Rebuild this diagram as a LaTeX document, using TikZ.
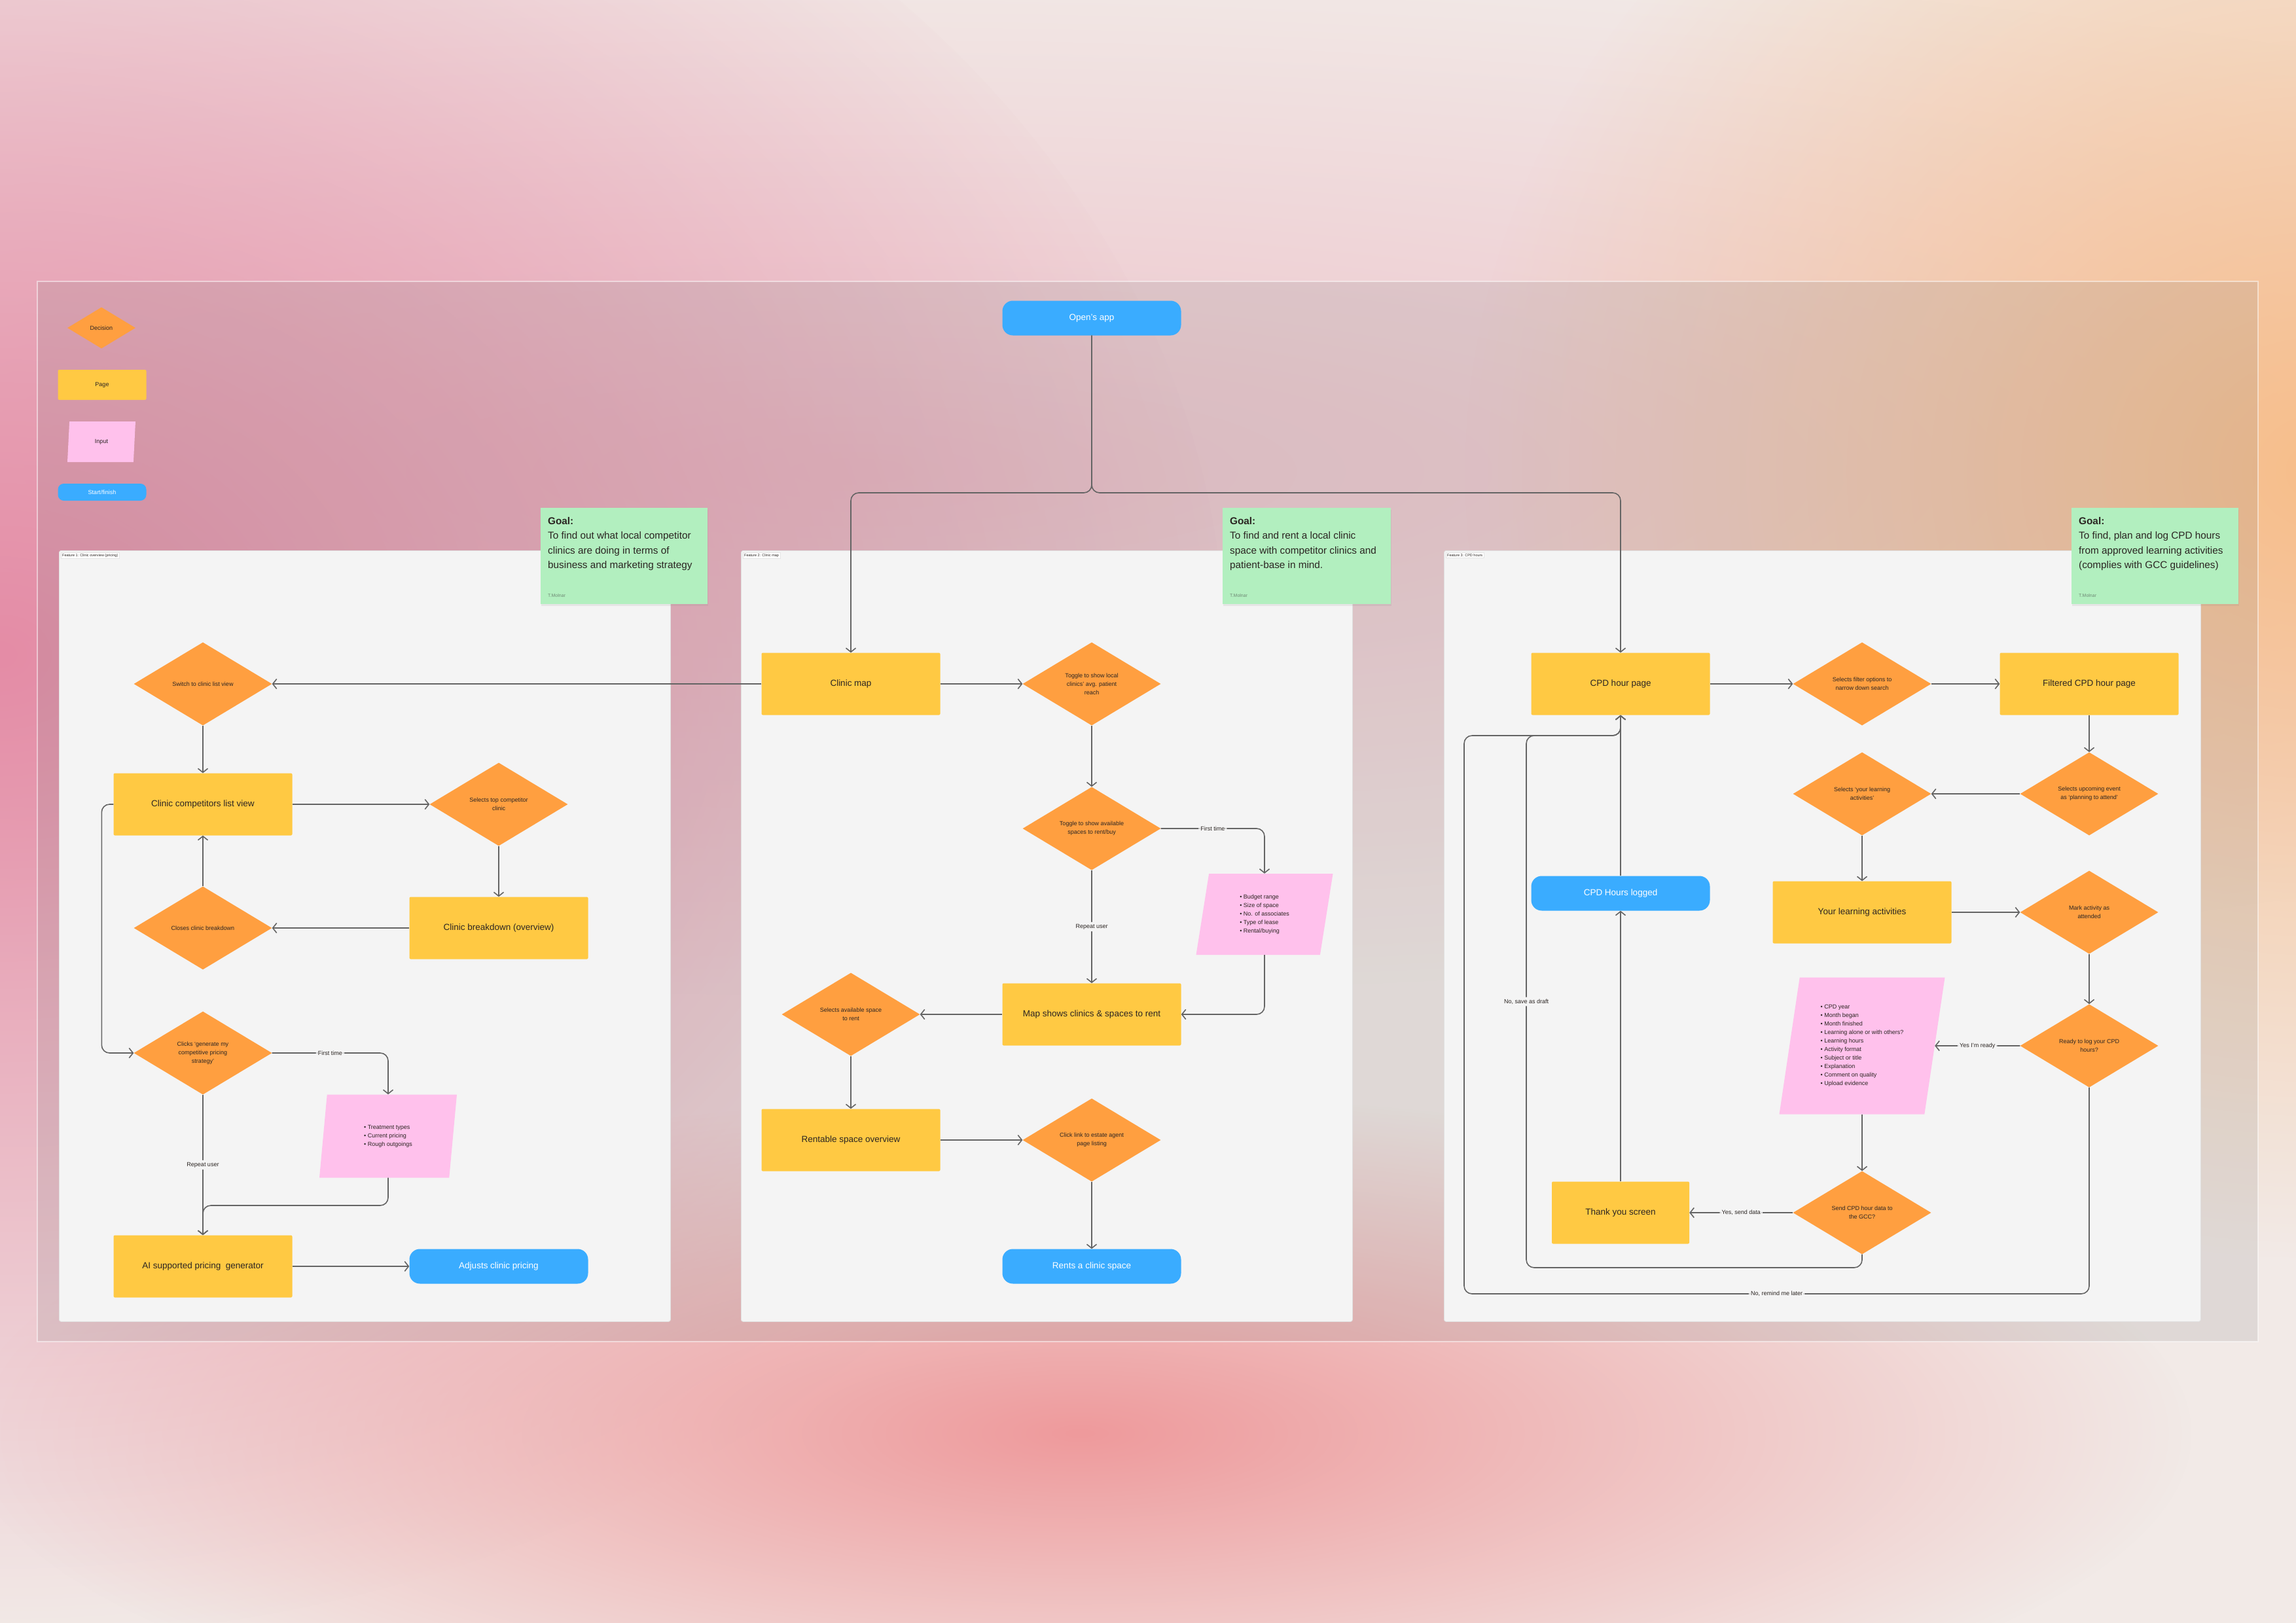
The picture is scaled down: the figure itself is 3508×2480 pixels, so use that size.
\documentclass[tikz,border=0pt]{standalone}
\usepackage{fontspec}
\setmainfont{Liberation Sans}
\usetikzlibrary{shapes.geometric,arrows.meta,fadings,shadows}

\definecolor{decisionfill}{HTML}{FF9F40}
\definecolor{pagefill}{HTML}{FFC943}
\definecolor{inputfill}{HTML}{FFC1EC}
\definecolor{startfill}{HTML}{3AACFF}
\definecolor{goalfill}{HTML}{B2EFBF}
\definecolor{panelfill}{HTML}{F4F4F4}
\definecolor{wire}{HTML}{646464}
\definecolor{ink}{HTML}{2B2522}
\definecolor{molnar}{HTML}{6F8A75}
\definecolor{bgbase}{HTML}{F2EAE7}
\definecolor{bglight}{HTML}{EDC3CB}
\definecolor{bgpink}{HTML}{E48CA6}
\definecolor{bgsalmon}{HTML}{EE9A9C}
\definecolor{bgpeach}{HTML}{F7BE8A}

\tikzfading[name=blobfade, inner color=transparent!0, outer color=transparent!100]

\begin{document}
\begin{tikzpicture}[x=1pt, y=-1pt,
	decision/.style={diamond, aspect=1.66, fill=decisionfill, inner sep=0pt, minimum width=211pt, minimum height=127pt, align=center, text=ink, font=\fontsize{9}{13}\selectfont},
	pagebox/.style={rectangle, fill=pagefill, rounded corners=2pt, minimum width=273pt, minimum height=95pt, text=ink, font=\fontsize{13.5}{15}\selectfont},
	startend/.style={rectangle, fill=startfill, rounded corners=16pt, minimum width=273pt, minimum height=53pt, text=white, font=\fontsize{13.5}{15}\selectfont},
	inputbox/.style={trapezium, trapezium stretches body, trapezium left angle=71, trapezium right angle=109, fill=inputfill, inner sep=0pt, align=left, text=ink, font=\fontsize{9}{13}\selectfont},
	goal/.style={anchor=north west, fill=goalfill, inner sep=11pt, text=ink, font=\fontsize{15.3}{22.5}\selectfont, drop shadow={opacity=0.12, shadow xshift=1pt, shadow yshift=-3pt}},
	panel/.style={anchor=north west, fill=panelfill, draw=black!12, line width=0.8pt, rounded corners=3pt, inner sep=0pt},
	paneltag/.style={anchor=north west, fill=white, draw=black!10, line width=0.4pt, inner sep=2pt, text=ink, font=\fontsize{5.5}{6}\selectfont},
	flow/.style={draw=wire, line width=1.6pt, rounded corners=12pt, -{Straight Barb[length=6pt, width=15pt]}},
	cond/.style={fill=panelfill, inner sep=3pt, text=ink, font=\fontsize{9}{10}\selectfont}
]
\useasboundingbox (0,0) rectangle (3508,2480);

\fill[bgbase] (0,0) rectangle (3508,2480);
\fill[bglight, path fading=blobfade] (1300,720) ellipse (3800pt and 800pt);
\fill[bgpink, path fading=blobfade] (0,1000) ellipse (1900pt and 1500pt);
\fill[bgsalmon, path fading=blobfade] (1650,2190) ellipse (1700pt and 520pt);
\fill[bgpeach, path fading=blobfade] (3540,720) ellipse (1300pt and 1200pt);
\fill[gray, fill opacity=0.16] (57,430) rectangle (3450,2050);
\draw[white, draw opacity=0.5, line width=1.5pt] (57,430) rectangle (3450,2050);

\node[decision, minimum width=104pt, minimum height=63pt] (legdecision) at (155,501) {Decision};
\node[pagebox, minimum width=135pt, minimum height=46pt, font=\fontsize{9}{10}\selectfont] (legpage) at (156,588) {Page};
\node[inputbox, minimum width=104pt, minimum height=62pt, trapezium left angle=69, trapezium right angle=111] (leginput) at (155,675) {Input};
\node[startend, minimum width=135pt, minimum height=26pt, rounded corners=9pt, font=\fontsize{9}{10}\selectfont] (legstart) at (156,752) {Start/finish};

\node[panel, minimum width=934pt, minimum height=1178pt] (panelA) at (90,841) {};
\node[panel, minimum width=934pt, minimum height=1178pt] (panelB) at (1132,841) {};
\node[panel, minimum width=1156pt, minimum height=1178pt] (panelC) at (2206,841) {};
\node[paneltag] (tagA) at ([shift={(3pt,-3pt)}]panelA.north west) {Feature 1: Clinic overview (pricing)};
\node[paneltag] (tagB) at ([shift={(3pt,-3pt)}]panelB.north west) {Feature 2: Clinic map};
\node[paneltag] (tagC) at ([shift={(3pt,-3pt)}]panelC.north west) {Feature 3: CPD hours};

\node[goal] (goalA) at (826,776) {\parbox[t][125pt][t]{233pt}{\vspace*{3pt}\textbf{Goal:}\\To find out what local competitor\\clinics are doing in terms of\\business and marketing strategy\par\vfill\fontsize{7}{8}\selectfont\color{molnar}T.Molnar}};
\node[goal] (goalB) at (1868,776) {\parbox[t][125pt][t]{235pt}{\vspace*{3pt}\textbf{Goal:}\\To find and rent a local clinic\\space with competitor clinics and\\patient-base in mind.\par\vfill\fontsize{7}{8}\selectfont\color{molnar}T.Molnar}};
\node[goal] (goalC) at (3165,776) {\parbox[t][125pt][t]{233pt}{\vspace*{3pt}\textbf{Goal:}\\To find, plan and log CPD hours\\from approved learning activities\\(complies with GCC guidelines)\par\vfill\fontsize{7}{8}\selectfont\color{molnar}T.Molnar}};

\node[startend] (openapp) at (1668,486) {Open's app};
\coordinate (split) at (1668,753);

\node[decision] (switchview) at (310,1045) {Switch to clinic list view};
\node[pagebox] (complist) at (310,1229) {Clinic competitors list view};
\node[decision] (seltop) at (762,1229) {Selects top competitor\\clinic};
\node[pagebox] (breakdown) at (762,1418) {Clinic breakdown (overview)};
\node[decision] (closebd) at (310,1418) {Closes clinic breakdown};
\node[decision] (genstrat) at (310,1609) {Clicks `generate my\\competitive pricing\\strategy'};
\node[inputbox, minimum width=210pt, minimum height=127pt] (pricinginput) at (593,1736) {\textbullet\ Treatment types\\\textbullet\ Current pricing\\\textbullet\ Rough outgoings};
\node[pagebox] (aigen) at (310,1935) {AI supported pricing\ \ generator};
\node[startend] (adjust) at (762,1935) {Adjusts clinic pricing};

\node[pagebox] (clinicmap) at (1300,1045) {Clinic map};
\node[decision] (togglereach) at (1668,1045) {Toggle to show local\\clinics' avg. patient\\reach};
\node[decision] (togglespace) at (1668,1266) {Toggle to show available\\spaces to rent/buy};
\node[inputbox, minimum width=209pt, minimum height=124pt, trapezium left angle=72, trapezium right angle=108] (spaceinput) at (1932,1397) {\textbullet\ Budget range\\\textbullet\ Size of space\\\textbullet\ No. of associates\\\textbullet\ Type of lease\\\textbullet\ Rental/buying};
\node[pagebox] (mapshows) at (1668,1550) {Map shows clinics \& spaces to rent};
\node[decision] (selspace) at (1300,1550) {Selects available space\\to rent};
\node[pagebox] (rentable) at (1300,1742) {Rentable space overview};
\node[decision] (estate) at (1668,1742) {Click link to estate agent\\page listing};
\node[startend] (rents) at (1668,1935) {Rents a clinic space};

\node[pagebox] (cpdpage) at (2476,1045) {CPD hour page};
\node[decision] (filter) at (2845,1045) {Selects filter options to\\narrow down search};
\node[pagebox] (filtered) at (3192,1045) {Filtered CPD hour page};
\node[decision] (upcoming) at (3192,1213) {Selects upcoming event\\as `planning to attend'};
\node[decision] (yourlearn) at (2845,1213) {Selects `your learning\\activities'};
\node[pagebox] (learnpage) at (2845,1394) {Your learning activities};
\node[decision] (attended) at (3192,1394) {Mark activity as\\attended};
\node[startend] (logged) at (2476,1365) {CPD Hours logged};
\node[decision] (ready) at (3192,1598) {Ready to log your CPD\\hours?};
\node[inputbox, minimum width=253pt, minimum height=209pt, trapezium left angle=76, trapezium right angle=104] (cpdinput) at (2845,1598) {\textbullet\ CPD year\\\textbullet\ Month began\\\textbullet\ Month finished\\\textbullet\ Learning alone or with others?\\\textbullet\ Learning hours\\\textbullet\ Activity format\\\textbullet\ Subject or title\\\textbullet\ Explanation\\\textbullet\ Comment on quality\\\textbullet\ Upload evidence};
\node[decision] (send) at (2845,1853) {Send CPD hour data to\\the GCC?};
\node[pagebox, minimum width=210pt] (thanks) at (2476,1853) {Thank you screen};

\draw[flow] (openapp.south) -- (split) -| (clinicmap.north);
\draw[flow] (openapp.south) -- (split) -| (cpdpage.north);

\draw[flow] (clinicmap.west) -- (switchview.east);
\draw[flow] (switchview.south) -- (complist.north);
\draw[flow] (complist.east) -- (seltop.west);
\draw[flow] (seltop.south) -- (breakdown.north);
\draw[flow] (breakdown.west) -- (closebd.east);
\draw[flow] (closebd.north) -- (complist.south);
\draw[flow] (complist.west) -- ++(-18,0) |- (genstrat.west);
\draw[flow] (genstrat.east) -| node[cond, pos=0.25] {First time} (pricinginput.center |- pricinginput.north);
\draw[flow] (genstrat.south) -- node[cond] {Repeat user} (aigen.north);
\draw[flow] (pricinginput.center |- pricinginput.south) |- (310,1842) -- (aigen.north);
\draw[flow] (aigen.east) -- (adjust.west);

\draw[flow] (clinicmap.east) -- (togglereach.west);
\draw[flow] (togglereach.south) -- (togglespace.north);
\draw[flow] (togglespace.east) -| node[cond, pos=0.25] {First time} (spaceinput.center |- spaceinput.north);
\draw[flow] (togglespace.south) -- node[cond] {Repeat user} (mapshows.north);
\draw[flow] (spaceinput.center |- spaceinput.south) |- (mapshows.east);
\draw[flow] (mapshows.west) -- (selspace.east);
\draw[flow] (selspace.south) -- (rentable.north);
\draw[flow] (rentable.east) -- (estate.west);
\draw[flow] (estate.south) -- (rents.north);

\draw[flow] (cpdpage.east) -- (filter.west);
\draw[flow] (filter.east) -- (filtered.west);
\draw[flow] (filtered.south) -- (upcoming.north);
\draw[flow] (upcoming.west) -- (yourlearn.east);
\draw[flow] (yourlearn.south) -- (learnpage.north);
\draw[flow] (learnpage.east) -- (attended.west);
\draw[flow] (attended.south) -- (ready.north);
\draw[flow] (ready.west) -- node[cond] {Yes I'm ready} (cpdinput.east);
\draw[flow] (cpdinput.center |- cpdinput.south) -- (send.north);
\draw[flow] (send.west) -- node[cond] {Yes, send data} (thanks.east);
\draw[flow] (thanks.north) -- (logged.south);
\draw[flow] (logged.north) -- (cpdpage.south);
\draw[flow] (send.south) |- (2332,1937) -- node[cond] {No, save as draft} (2332,1124) -| (cpdpage.south);
\draw[flow] (ready.south) |- node[cond, pos=0.75] {No, remind me later} (2237,1977) -- (2237,1124) -| (cpdpage.south);
\end{tikzpicture}
\end{document}
